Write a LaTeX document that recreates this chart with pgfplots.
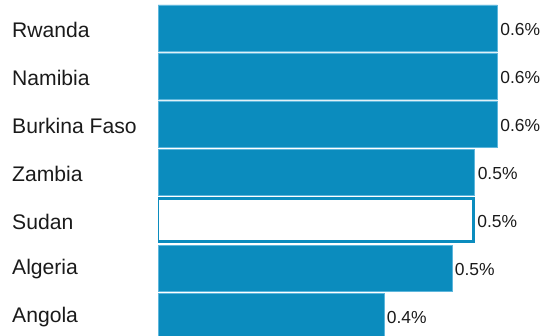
\documentclass[border=0pt]{standalone}
\usepackage{pgfplots}
\pgfplotsset{compat=1.18}
\usepackage{fontspec}
\setmainfont{Liberation Sans}
\definecolor{barblue}{HTML}{0B8CBE}
\definecolor{baredge}{HTML}{5DB6DC}
\definecolor{txt}{HTML}{1A1A1A}
\begin{document}
\begin{tikzpicture}[x=1bp,y=1bp]
\useasboundingbox (0,0) rectangle (544,335);
\begin{axis}[
  at={(158bp,0bp)}, anchor=south west,
  scale only axis, width=386bp, height=335bp,
  xmin=0, xmax=0.6822, ymin=-0.583, ymax=6.396, y dir=reverse,
  axis line style={draw=none},
  major tick length=0pt,
  xtick=\empty,
  ytick={0,1,2,3,4,5,6},
  yticklabels={Rwanda,Namibia,Burkina Faso,Zambia,Sudan,Algeria,Angola},
  yticklabel style={anchor=west, inner sep=0pt, xshift=-146bp, yshift=-1.5bp, text=txt,
    font=\fontsize{21.2}{24}\selectfont},
  point meta=explicit symbolic,
  nodes near coords={\pgfplotspointmeta\%},
  nodes near coords style={anchor=west, inner sep=0pt, xshift=2.5bp, yshift=-1.5bp, text=txt,
    font=\fontsize{17.5}{20}\selectfont},
]
\addplot[xbar, bar width=0.958, bar shift=0pt, fill=barblue, draw=baredge, line width=0.8bp]
  table[x=v, y=p, meta=l] {
p v l
0 0.600 0.6
1 0.600 0.6
2 0.600 0.6
3 0.560 0.5
5 0.5196 0.5
6 0.3994 0.4
};
\addplot[xbar, bar width=0.906, bar shift=0pt, fill=white, draw=barblue, line width=2.5bp]
  table[x=v, y=p, meta=l] {
p v l
4 0.5578 0.5
};
\end{axis}
\end{tikzpicture}
\end{document}
